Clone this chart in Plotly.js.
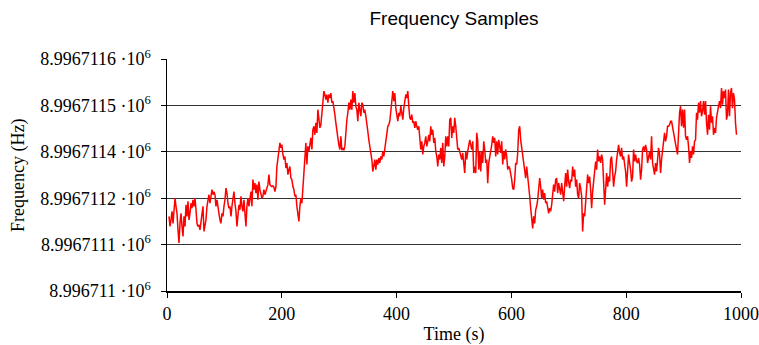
<!DOCTYPE html>
<html>
<head>
<meta charset="utf-8">
<script src="https://cdn.plot.ly/plotly-3.0.1.min.js"></script>
<style>html,body{margin:0;padding:0;background:#fff;}#chart{width:759px;height:345px;}</style>
</head>
<body>
<div id="chart"></div>
<script>
// Sampling of the series (seconds)
const startTime = 3.5;
const sampleStep = 1.7406;

// Frequency samples (Hz)
const freqHz = [
8996711.193,8996711.167,8996711.184,8996711.206,8996711.175,8996711.219,8996711.240,8996711.219,8996711.201,8996711.158,
8996711.124,8996711.175,8996711.201,8996711.167,8996711.141,8996711.193,8996711.167,8996711.223,8996711.193,8996711.232,
8996711.184,8996711.201,8996711.227,8996711.214,8996711.236,8996711.219,8996711.240,8996711.210,8996711.175,8996711.167,
8996711.171,8996711.158,8996711.184,8996711.197,8996711.219,8996711.154,8996711.167,8996711.184,8996711.219,8996711.240,
8996711.249,8996711.227,8996711.253,8996711.262,8996711.249,8996711.257,8996711.249,8996711.219,8996711.236,8996711.223,
8996711.201,8996711.184,8996711.175,8996711.201,8996711.193,8996711.219,8996711.236,8996711.266,8996711.253,8996711.227,
8996711.214,8996711.219,8996711.193,8996711.219,8996711.236,8996711.257,8996711.227,8996711.206,8996711.167,8996711.201,
8996711.223,8996711.210,8996711.245,8996711.219,8996711.206,8996711.236,8996711.184,8996711.167,8996711.219,8996711.240,
8996711.219,8996711.249,8996711.257,8996711.219,8996711.288,8996711.262,8996711.279,8996711.253,8996711.275,8996711.236,
8996711.283,8996711.262,8996711.253,8996711.240,8996711.245,8996711.262,
8996711.249,8996711.257,8996711.270,8996711.275,8996711.301,8996711.275,8996711.272,8996711.270,8996711.272,8996711.269,
8996711.257,8996711.270,8996711.322,8996711.340,8996711.361,8996711.383,8996711.370,8996711.378,8996711.353,8996711.340,
8996711.348,8996711.318,8996711.331,8996711.301,8996711.314,8996711.322,8996711.292,8996711.288,8996711.270,8996711.262,
8996711.245,8996711.249,8996711.219,8996711.201,8996711.180,8996711.219,8996711.240,8996711.227,8996711.270,8996711.314,
8996711.344,8996711.383,8996711.327,8996711.374,8996711.361,8996711.387,8996711.396,8996711.366,8996711.417,8996711.426,
8996711.404,8996711.435,8996711.409,8996711.469,8996711.435,8996711.422,8996711.430,8996711.465,8996711.482,8996711.517,
8996711.508,8996711.495,8996711.508,8996711.487,8996711.508,8996711.499,8996711.512,8996711.487,8996711.491,8996711.478,
8996711.456,8996711.435,8996711.409,8996711.396,8996711.378,8996711.366,8996711.400,8996711.364,8996711.370,8996711.364,
8996711.374,8996711.417,8996711.443,8996711.461,8996711.487,8996711.469,8996711.495,8996711.469,8996711.517,8996711.487,
8996711.512,8996711.478,8996711.469,8996711.439,8996711.487,
8996711.469,8996711.452,8996711.487,8996711.482,8996711.461,8996711.469,8996711.452,8996711.422,8996711.413,8996711.391,
8996711.374,8996711.361,8996711.340,8996711.309,8996711.331,8996711.340,8996711.314,8996711.340,8996711.327,8996711.344,
8996711.331,8996711.348,8996711.340,8996711.361,8996711.348,8996711.366,8996711.387,8996711.400,8996711.426,8996711.430,
8996711.439,8996711.465,8996711.487,8996711.517,8996711.491,8996711.512,8996711.473,8996711.448,8996711.439,8996711.461,
8996711.452,8996711.478,8996711.461,8996711.443,8996711.473,8996711.487,8996711.508,8996711.499,8996711.517,8996711.478,
8996711.448,8996711.443,8996711.456,8996711.435,8996711.439,8996711.422,8996711.439,8996711.426,8996711.417,8996711.426,
8996711.383,8996711.366,8996711.387,8996711.353,8996711.374,8996711.383,8996711.400,8996711.374,8996711.387,8996711.404,
8996711.387,8996711.426,8996711.404,8996711.417,8996711.383,8996711.396,8996711.361,8996711.348,8996711.322,8996711.353,
8996711.340,8996711.370,8996711.331,8996711.383,8996711.322,8996711.348,8996711.400,8996711.374,8996711.400,8996711.374,
8996711.443,8996711.448,8996711.396,8996711.426,8996711.409,
8996711.448,8996711.426,8996711.378,8996711.366,8996711.370,8996711.361,8996711.348,8996711.340,8996711.357,8996711.322,
8996711.305,8996711.361,8996711.340,8996711.361,8996711.374,8996711.391,8996711.378,8996711.366,8996711.387,8996711.305,
8996711.322,8996711.305,8996711.409,8996711.387,8996711.314,8996711.361,8996711.309,8996711.361,8996711.331,8996711.387,
8996711.366,8996711.331,8996711.340,8996711.279,8996711.331,8996711.344,8996711.361,8996711.378,8996711.400,8996711.383,
8996711.396,8996711.348,8996711.387,8996711.353,8996711.391,8996711.378,8996711.357,8996711.387,8996711.327,8996711.361,
8996711.340,8996711.366,8996711.348,8996711.314,8996711.322,8996711.318,8996711.305,8996711.288,8996711.266,8996711.262,
8996711.288,8996711.331,8996711.327,8996711.357,8996711.417,8996711.426,8996711.391,8996711.370,8996711.361,8996711.340,
8996711.318,8996711.292,8996711.322,8996711.288,8996711.262,8996711.245,8996711.214,8996711.193,8996711.162,8996711.193,
8996711.175,8996711.210,8996711.219,8996711.236,8996711.262,8996711.292,8996711.270,8996711.240,8996711.262,8996711.236,
8996711.253,8996711.227,8996711.232,8996711.210,8996711.201,
8996711.214,8996711.206,8996711.223,8996711.253,8996711.275,8996711.257,8996711.288,8996711.292,8996711.253,8996711.279,
8996711.262,8996711.249,8996711.279,8996711.257,8996711.232,8996711.270,8996711.305,8996711.270,8996711.314,8996711.283,
8996711.266,8996711.288,8996711.283,8996711.322,8996711.296,8996711.314,8996711.270,8996711.288,8996711.249,8996711.240,
8996711.279,8996711.266,8996711.245,8996711.154,8996711.201,8996711.193,8996711.236,8996711.288,8996711.301,8996711.279,
8996711.296,8996711.262,8996711.214,8996711.257,8996711.288,8996711.305,8996711.335,8996711.314,8996711.366,8996711.335,
8996711.348,8996711.331,8996711.353,8996711.340,8996711.249,8996711.223,8996711.262,8996711.305,8996711.270,8996711.296,
8996711.283,8996711.340,8996711.348,8996711.314,8996711.270,8996711.296,8996711.309,8996711.340,8996711.366,8996711.378,
8996711.357,8996711.348,8996711.370,8996711.340,8996711.348,8996711.327,8996711.309,8996711.270,8996711.327,8996711.353,
8996711.331,8996711.314,8996711.283,8996711.296,8996711.366,8996711.335,8996711.353,8996711.335,8996711.331,8996711.344,
8996711.327,8996711.288,8996711.314,8996711.366,8996711.374,
8996711.361,8996711.378,8996711.366,8996711.331,8996711.353,8996711.361,8996711.340,8996711.400,8996711.331,8996711.314,
8996711.301,8996711.331,8996711.309,8996711.340,8996711.370,8996711.353,8996711.305,8996711.340,8996711.361,8996711.378,
8996711.409,8996711.387,8996711.400,8996711.426,8996711.426,8996711.430,8996711.439,8996711.439,8996711.422,8996711.409,
8996711.391,8996711.374,8996711.366,8996711.353,8996711.417,8996711.461,8996711.478,8996711.426,8996711.469,8996711.422,
8996711.469,8996711.400,8996711.391,8996711.400,8996711.374,8996711.331,8996711.361,8996711.344,8996711.374,8996711.353,
8996711.387,8996711.391,8996711.461,8996711.443,8996711.487,8996711.461,8996711.491,8996711.452,8996711.465,8996711.491,
8996711.456,8996711.491,8996711.435,8996711.404,8996711.456,8996711.417,8996711.478,8996711.435,8996711.452,8996711.404,
8996711.422,8996711.409,8996711.448,8996711.469,8996711.478,8996711.491,8996711.473,8996711.525,8996711.482,8996711.517,
8996711.499,8996711.521,8996711.443,8996711.456,8996711.521,8996711.452,8996711.512,8996711.525,8996711.473,8996711.512,
8996711.495,8996711.435,8996711.404
];

// Axis ticks and titles
const xTickVals = [0, 200, 400, 600, 800, 1000];
const xTickText = ['0', '200', '400', '600', '800', '1000'];
const yTickVals = [8996711.00, 8996711.12, 8996711.24, 8996711.36, 8996711.48, 8996711.60];
const yTickText = [
  '8.996711 ·10<sup>6</sup>',
  '8.9967111 ·10<sup>6</sup>',
  '8.9967112 ·10<sup>6</sup>',
  '8.9967114 ·10<sup>6</sup>',
  '8.9967115 ·10<sup>6</sup>',
  '8.9967116 ·10<sup>6</sup>'
];
const xTitle = 'Time (s)';
const yTitle = 'Frequency (Hz)';
const chartTitle = 'Frequency Samples';

const serif = 'Liberation Serif, Times New Roman, serif';
const sans = 'Liberation Sans, Arial, sans-serif';

const trace = {
  type: 'scatter',
  mode: 'lines',
  x0: startTime,
  dx: sampleStep,
  y: freqHz,
  line: {color: '#ff0000', width: 1.5},
  hoverinfo: 'skip'
};

const layout = {
  width: 759,
  height: 345,
  margin: {l: 167, r: 18, t: 59, b: 54, pad: 0},
  paper_bgcolor: '#ffffff',
  plot_bgcolor: '#ffffff',
  showlegend: false,
  title: {
    text: chartTitle,
    font: {family: sans, size: 19, color: '#000'},
    xref: 'paper', x: 0.5, xanchor: 'center',
    yref: 'container', y: 0.948, yanchor: 'middle'
  },
  xaxis: {
    range: [0, 1000],
    tickvals: xTickVals,
    ticktext: xTickText,
    ticks: 'outside', ticklen: 5, tickwidth: 1, tickcolor: '#000',
    showline: true, linewidth: 2, linecolor: '#000',
    showgrid: false, zeroline: false,
    tickfont: {family: serif, size: 18, color: '#000'},
    title: {text: xTitle, font: {family: serif, size: 18, color: '#000'}, standoff: 6}
  },
  xaxis2: {
    overlaying: 'x',
    anchor: 'y',
    side: 'bottom',
    range: [0, 1000],
    tickvals: xTickVals,
    ticks: 'inside', ticklen: 5, tickwidth: 1, tickcolor: '#000',
    showticklabels: false, showline: false, showgrid: false, zeroline: false
  },
  yaxis: {
    range: [8996711.0, 8996711.6],
    tickvals: yTickVals,
    ticktext: yTickText,
    ticks: 'outside', ticklen: 5, tickwidth: 1, tickcolor: '#000',
    showline: true, linewidth: 1.5, linecolor: '#000',
    showgrid: true, gridcolor: '#333', gridwidth: 1,
    zeroline: false,
    tickfont: {family: serif, size: 18, color: '#000'},
    ticklabelstandoff: 6
  },
  annotations: [{
    text: yTitle,
    xref: 'paper', yref: 'paper',
    x: -0.2596, y: 0.5,
    xanchor: 'center', yanchor: 'middle',
    textangle: -90,
    showarrow: false,
    font: {family: serif, size: 18, color: '#000'}
  }]
};

Plotly.newPlot('chart', [trace], layout, {staticPlot: true, displayModeBar: false});
</script>
</body>
</html>
